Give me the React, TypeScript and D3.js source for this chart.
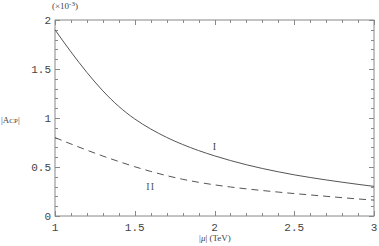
import React from "react";
import * as d3 from "d3";

const muValues = [1.0, 1.1, 1.2, 1.3, 1.4, 1.5, 1.6, 1.7, 1.8, 1.9, 2.0, 2.1, 2.2, 2.3, 2.4, 2.5, 2.6, 2.7, 2.8, 2.9, 3.0];
const seriesI = [1.9, 1.675, 1.465, 1.277, 1.118, 0.99, 0.888, 0.802, 0.73, 0.668, 0.614, 0.566, 0.523, 0.485, 0.451, 0.42, 0.393, 0.368, 0.345, 0.323, 0.302];
const seriesII = [0.8, 0.735, 0.672, 0.612, 0.556, 0.503, 0.455, 0.412, 0.375, 0.344, 0.318, 0.296, 0.277, 0.26, 0.244, 0.229, 0.215, 0.201, 0.187, 0.174, 0.162];
const xTickLabels = ["1", "1.5", "2", "2.5", "3"];
const yTickLabels = ["0", "0.5", "1", "1.5", "2"];

const W = 379, H = 246;
const L = 55, R = 374, T = 20, B = 216;

export default function App() {
  const x = d3.scaleLinear().domain([1, 3]).range([L, R]);
  const y = d3.scaleLinear().domain([0, 2]).range([B, T]);
  const line = d3.line<number>().x((_, i) => x(muValues[i])).y((d) => y(d)).curve(d3.curveMonotoneX);

  const xMinor = d3.range(1, 3.0001, 0.1);
  const yMinor = d3.range(0, 2.0001, 0.1);
  const isMajor = (v: number) => Math.abs(v * 2 - Math.round(v * 2)) < 1e-6;
  const tickColor = "#888";
  const mono = "'Liberation Mono', 'DejaVu Sans Mono', monospace";
  const serif = "'Liberation Serif', 'DejaVu Serif', serif";

  return (
    <svg width={W} height={H} style={{ position: "absolute", left: 0, top: 0 }}>
      <rect x={0} y={0} width={W} height={H} fill="#fff" />
      <rect x={L} y={T} width={R - L} height={B - T} fill="none" stroke={tickColor} strokeWidth={1} />
      {xMinor.map((v, i) => {
        const len = isMajor(v) ? 5 : 3;
        const px = Math.round(x(v)) + 0.5;
        return (
          <g key={"xt" + i}>
            <line x1={px} x2={px} y1={B} y2={B - len} stroke={tickColor} />
            <line x1={px} x2={px} y1={T} y2={T + len} stroke={tickColor} />
          </g>
        );
      })}
      {yMinor.map((v, i) => {
        const len = isMajor(v) ? 5 : 3;
        const py = Math.round(y(v)) + 0.5;
        return (
          <g key={"yt" + i}>
            <line x1={L} x2={L + len} y1={py} y2={py} stroke={tickColor} />
            <line x1={R} x2={R - len} y1={py} y2={py} stroke={tickColor} />
          </g>
        );
      })}
      {xTickLabels.map((t) => (
        <text key={"xl" + t} x={x(+t)} y={231} textAnchor="middle" fontFamily={mono} fontSize={11} fill="#444">
          {t}
        </text>
      ))}
      {yTickLabels.map((t) => (
        <text key={"yl" + t} x={51} y={y(+t)} dy="0.35em" textAnchor="end" fontFamily={mono} fontSize={11} fill="#444">
          {t}
        </text>
      ))}
      <path d={line(seriesI) || ""} fill="none" stroke="#555" strokeWidth={1} />
      <path d={line(seriesII) || ""} fill="none" stroke="#555" strokeWidth={1} strokeDasharray="7,5" />
      <text x={x(2.0)} y={y(0.705)} dy="0.35em" textAnchor="middle" fontFamily={serif} fontSize={10} fill="#444">I</text>
      <text x={x(1.6)} y={y(0.306)} dy="0.35em" textAnchor="middle" fontFamily={serif} fontSize={10} fill="#555" letterSpacing={1}>II</text>
      <text x={1} y={123} fontFamily={serif} fontSize={9} fill="#444">
        |A<tspan fontSize={7}>CP</tspan>|
      </text>
      <text x={215} y={241} textAnchor="middle" fontFamily={serif} fontSize={9} fill="#444">
        |<tspan fontStyle="italic">μ</tspan>| (TeV)
      </text>
      <text x={52} y={9} fontFamily={serif} fontSize={9} fill="#444">
        (×10<tspan dy={-3} fontSize={7}>-3</tspan><tspan dy={3}>)</tspan>
      </text>
    </svg>
  );
}
